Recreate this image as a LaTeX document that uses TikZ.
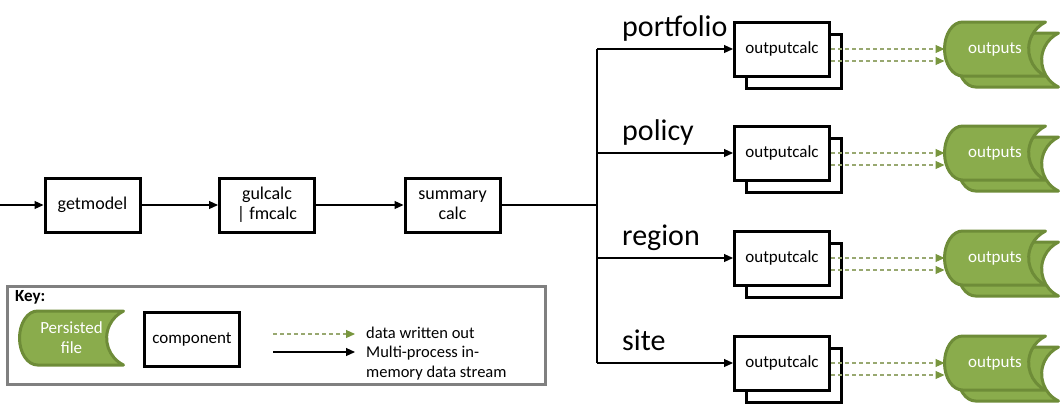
\documentclass[tikz,border=0pt]{standalone}
\usepackage{fontspec}
\setmainfont{Carlito}
\usetikzlibrary{arrows.meta}
\usetikzlibrary{backgrounds}
\usetikzlibrary{positioning}

\definecolor{filegreen}{RGB}{138,172,76}
\definecolor{fileedge}{RGB}{110,140,56}
\definecolor{dashgreen}{RGB}{152,168,112}
\definecolor{tipgreen}{RGB}{120,150,62}
\definecolor{keygrey}{RGB}{128,128,128}

% green "persisted file" outline round a store node
\newcommand{\storeshape}[1]{%
  \begin{scope}[on background layer]
    \draw[storeline] ([xshift=18pt]#1.north west)
      arc[start angle=90, end angle=270, x radius=18pt, y radius=27pt]
      -- (#1.south east)
      arc[start angle=244, end angle=116, radius=30pt]
      -- cycle;
  \end{scope}}

\begin{document}
\begin{tikzpicture}[
    x=1pt, y=-1pt,
    comp/.style={
      draw, fill=white, line width=3pt,
      minimum width=95pt, minimum height=54pt,
      align=center, font=\fontsize{18}{20}\selectfont
    },
    calcfont/.style={
      font=\fontsize{17}{20}\selectfont
    },
    store/.style={
      inner sep=0pt, outer sep=0pt,
      minimum width=101pt, minimum height=54pt,
      align=center, text=white, font=\fontsize{17}{20}\selectfont
    },
    storeline/.style={
      fill=filegreen, draw=fileedge, line width=3pt, line join=round
    },
    grouplabel/.style={
      anchor=base west, inner sep=0pt, font=\fontsize{30}{36}\selectfont
    },
    stream/.style={
      line width=1.1pt
    },
    flow/.style={
      stream, -{Triangle[length=9pt, width=8pt]}
    },
    written/.style={
      dashgreen, line width=1.1pt, dash pattern=on 4pt off 3pt,
      -{Triangle[length=9pt, width=8pt, color=tipgreen, fill=tipgreen]}
    },
    keytext/.style={
      anchor=base west, inner sep=0pt, font=\fontsize{16.5}{19}\selectfont
    }
  ]
    \useasboundingbox (0,0) rectangle (1064,405);

    % main pipeline
    \coordinate (start) at (0,205);
    \node[comp] (getmodel) at (92.5,205) {getmodel};
    \node[comp] (gulcalc)  at (267,205)  {gulcalc\\| fmcalc};
    \node[comp] (summary)  at (452.5,205) {summary\\calc};
    \coordinate (junction) at (597,205);

    \draw[flow]   (start)    -- (getmodel);
    \draw[flow]   (getmodel) -- (gulcalc);
    \draw[flow]   (gulcalc)  -- (summary);
    \draw[stream] (summary)  -- (junction);

    % one row per summary level
    \foreach \grp/\ry in {portfolio/49, policy/153, region/258, site/363} {
      \node[comp] (back-\grp) at (794,\ry+12) {};
      \node[comp, calcfont] (calc-\grp) at (782,\ry) {outputcalc};
      \node[grouplabel] (label-\grp) at (622,\ry-13) {\grp};
      \coordinate (split-\grp) at (597,\ry);
      \draw[flow] (split-\grp) -- (calc-\grp);

      \node[store] (oback-\grp) at (1008,\ry+11) {};
      \node[store] (out-\grp) at (995,\ry) {outputs};
      \storeshape{oback-\grp}
      \storeshape{out-\grp}

      \draw[written] (calc-\grp.east) -- (out-\grp.west);
      \draw[written] ([yshift=-12pt]calc-\grp.east) -- ([yshift=-12pt]out-\grp.west);
    }
    \draw[stream] (split-portfolio) -- (split-site);

    % key
    \node[draw=keygrey, line width=3pt, minimum width=538pt, minimum height=98pt]
      (key) at (276.5,335.5) {};
    \node[anchor=west, inner sep=0pt, font=\fontsize{17}{19}\selectfont\bfseries]
      (keytitle) at (15,297) {Key:};
    \node[store, minimum width=104pt] (keyfile) at (71.5,338) {Persisted\\file};
    \storeshape{keyfile}
    \node[comp, font=\fontsize{17}{20}\selectfont] (keycomp) at (192,339) {component};

    \coordinate (keydash-a) at (273,334);
    \coordinate (keydash-b) at (355,334);
    \coordinate (keyflow-a) at (273,352);
    \coordinate (keyflow-b) at (355,352);
    \draw[written] (keydash-a) -- (keydash-b);
    \draw[flow]    (keyflow-a) -- (keyflow-b);

    \node[keytext] (keydata)   at (366,338.5) {data written out};
    \node[keytext] (keymulti)  at (366,357.5) {Multi-process in-};
    \node[keytext] (keymemory) at (366,377)   {memory data stream};
\end{tikzpicture}
\end{document}
